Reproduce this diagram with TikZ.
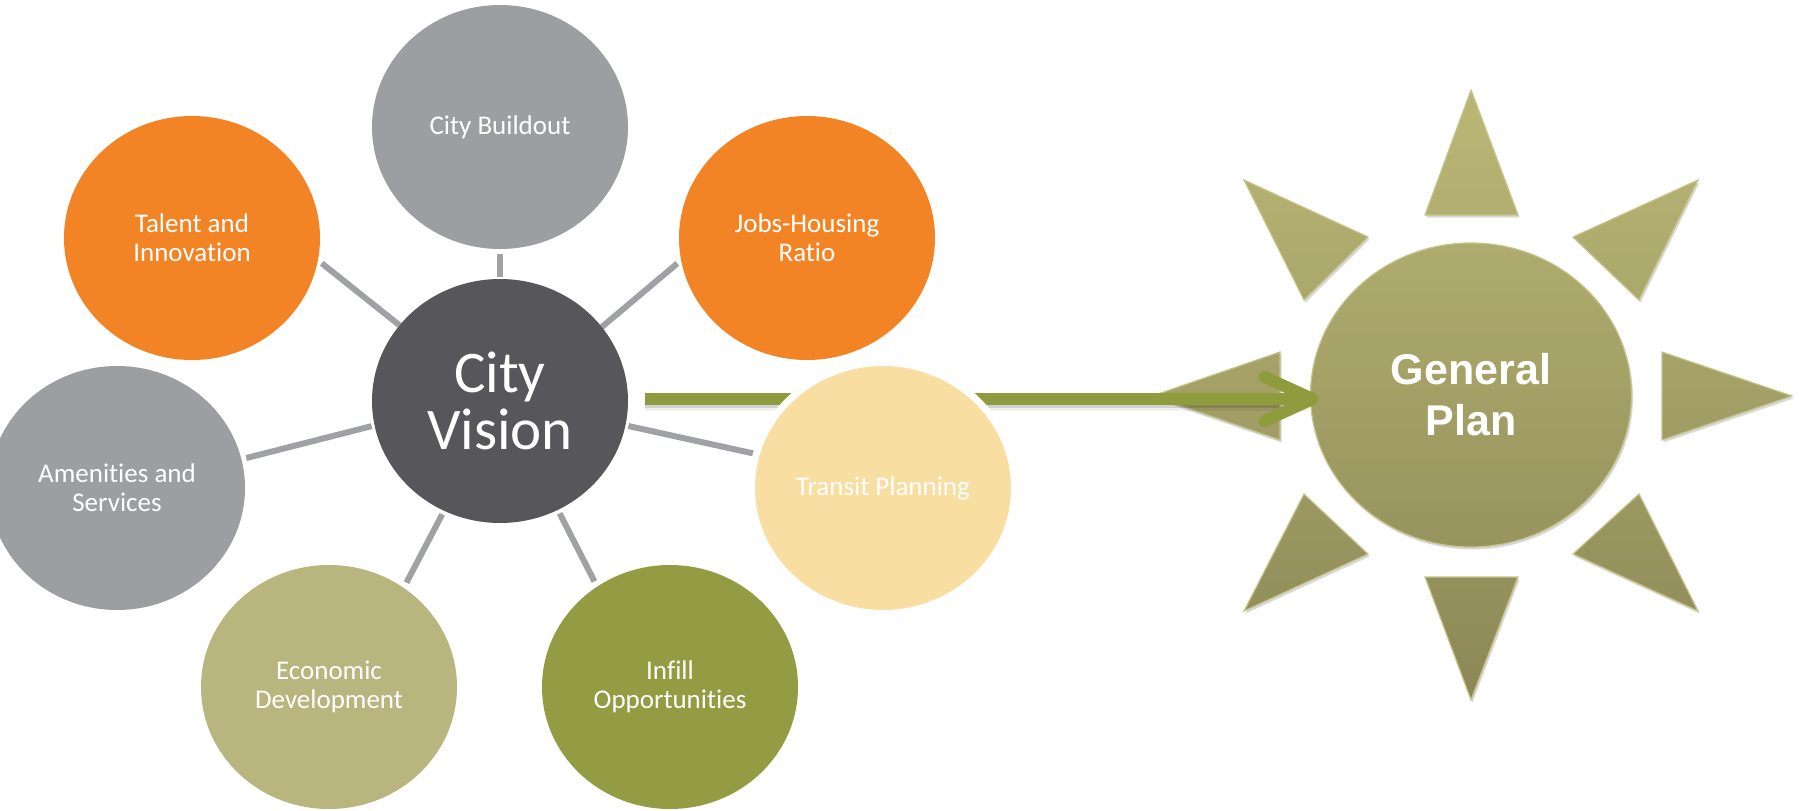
\documentclass[tikz,border=0pt]{standalone}
\usepackage{fontspec}
\setmainfont{Carlito}[RawFeature={-liga;-calt}]
\newfontfamily\gpfont{Liberation Sans}
\usetikzlibrary{shapes.geometric,shadows,calc}
\pgfdeclarelayer{bg}
\pgfdeclarelayer{mid}
\pgfsetlayers{bg,mid,main}

\definecolor{cgray}{RGB}{157,158,162}
\definecolor{corange}{RGB}{243,132,37}
\definecolor{cdark}{RGB}{87,86,91}
\definecolor{ctransit}{RGB}{249,222,161}
\definecolor{cecon}{RGB}{184,181,127}
\definecolor{cinfill}{RGB}{147,156,66}
\definecolor{cline}{RGB}{160,161,165}
\definecolor{carrow}{RGB}{143,156,62}
\definecolor{sunA}{RGB}{186,183,118}
\definecolor{sunB}{RGB}{140,136,86}
\definecolor{sunEdge}{RGB}{198,196,140}

\begin{document}
\begin{tikzpicture}[x=1pt,y=-1pt,
  bubble/.style={ellipse, minimum width=256pt, minimum height=244pt, inner sep=0pt, outer sep=0pt,
    text=white, align=center, font=\fontsize{27}{29}\selectfont},
  link/.style={draw=cline, line width=6pt},
  ray/.style={draw=sunEdge, line width=1.2pt,
    drop shadow={shadow xshift=1.5pt, shadow yshift=-2.5pt, opacity=0.3, fill=black!50}},
  shaft/.style={draw=carrow, line width=12pt},
]
\useasboundingbox (0,0) rectangle (1799,811);

\begin{pgfonlayer}{bg}
  \fill[white] (0,0) rectangle (1799,811);
  % sun rays
  \path[ray, top color=sunA, bottom color=sunA!80!sunB] (1471,90) -- (1518,215) -- (1425,215) -- cycle;
  \path[ray, top color=sunA!85!sunB, bottom color=sunA!66!sunB] (1244,180) -- (1368,237) -- (1304,300) -- cycle;
  \path[ray, top color=sunA!85!sunB, bottom color=sunA!66!sunB] (1698,180) -- (1573,237) -- (1639,300) -- cycle;
  \path[ray, top color=sunA!57!sunB, bottom color=sunA!43!sunB] (1152,396) -- (1280,352) -- (1280,440) -- cycle;
  \path[ray, top color=sunA!57!sunB, bottom color=sunA!43!sunB] (1792,396) -- (1662,352) -- (1662,440) -- cycle;
  \path[ray, top color=sunA!34!sunB, bottom color=sunA!15!sunB] (1304,494) -- (1368,554) -- (1244,611) -- cycle;
  \path[ray, top color=sunA!34!sunB, bottom color=sunA!15!sunB] (1639,494) -- (1573,554) -- (1698,611) -- cycle;
  \path[ray, top color=sunA!20!sunB, bottom color=sunB] (1425,577) -- (1518,577) -- (1471,700) -- cycle;
  \node[ellipse, minimum width=321pt, minimum height=304pt, inner sep=0pt, outer sep=0pt,
    ray, top color=sunA!75!sunB, bottom color=sunA!25!sunB,
    text=white, align=center, font=\gpfont\bfseries\fontsize{43}{51}\selectfont] (gp) at (1471,395) {General\\Plan};
\end{pgfonlayer}

% satellite bubbles
\node[bubble, fill=cgray] (build) at (500,127) {City Buildout};
\node[bubble, fill=corange] (talent) at (192,238) {Talent and\\Innovation};
\node[bubble, fill=corange] (jobs) at (807,238) {Jobs-Housing\\Ratio};
\node[bubble, fill=cdark, font=\fontsize{59}{57}\selectfont] (vision) at (500,401) {City\\Vision};
\node[bubble, fill=cgray] (amen) at (117,488) {Amenities and\\Services};
\node[bubble, fill=ctransit, draw=white, line width=7pt, minimum width=263pt, minimum height=251pt] (transit) at (883,488) {Transit Planning};
\node[bubble, fill=cecon] (econ) at (329,687) {Economic\\Development};
\node[bubble, fill=cinfill] (infill) at (670,687) {Infill\\Opportunities};

\begin{pgfonlayer}{mid}
  % connectors
  \draw[link, shorten <=2pt, shorten >=5pt] (vision.90) -- (build.270);
  \draw[link, shorten >=5pt] (vision.143.6) -- (talent.-10.8);
  \draw[link, shorten >=5pt] (vision.36.7) -- (jobs.190.9);
  \draw[link, shorten <=3pt, shorten >=5pt] (vision.191.9) -- (amen.13.9);
  \draw[link, shorten <=3pt] (vision.-11.9) -- (transit.165.8);
  \draw[link, shorten <=4pt, shorten >=6pt] (vision.-117.6) -- (econ.53.1);
  \draw[link, shorten <=4pt, shorten >=6pt] (vision.-62.8) -- (infill.126.5);
  % arrow to the general plan
  \coordinate (tip) at ($(gp.west |- build.south)+(2,150)$);
  \draw[line width=16pt, black, opacity=0.06, shorten <=17pt, shorten >=5pt] ([yshift=-4pt]vision.east |- tip) -- ([yshift=-4pt]tip);
  \draw[line width=12pt, black, opacity=0.12, shorten <=17pt, shorten >=5pt] ([yshift=-3pt]vision.east |- tip) -- ([yshift=-3pt]tip);
  \draw[shaft, shorten <=17pt, shorten >=4pt] (vision.east |- tip) -- (tip);
  \draw[shaft, line cap=round, line join=round] ($(tip)+(-48,-22)$) -- (tip) -- ($(tip)+(-48,22)$);
\end{pgfonlayer}
\end{tikzpicture}
\end{document}
